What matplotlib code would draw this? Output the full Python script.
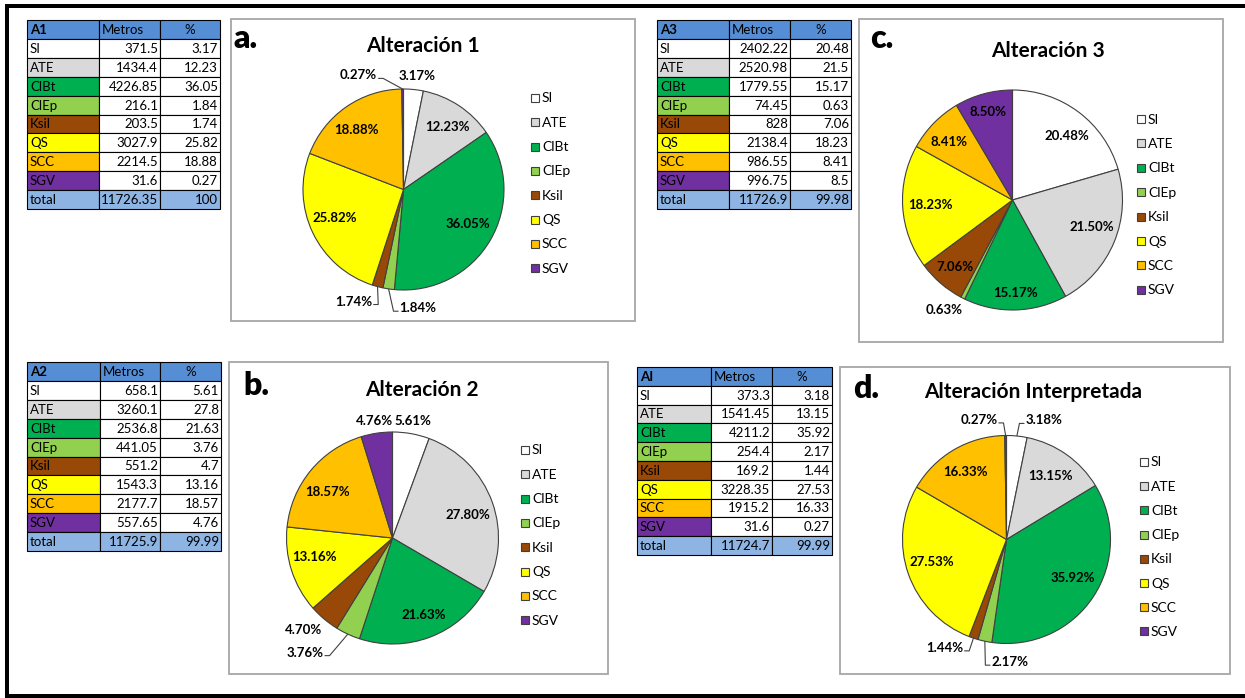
import matplotlib
matplotlib.use("Agg")
import matplotlib.pyplot as plt
from matplotlib.patches import Rectangle
import numpy as np

W, H = 1245, 698
plt.rcParams['font.family'] = ['Lato', 'DejaVu Sans']

# ---------------------------------------------------------------- data
categories = ["SI", "ATE", "ClBt", "ClEp", "Ksil", "QS", "SCC", "SGV"]
colors = ["#FFFFFF", "#D9D9D9", "#00B050", "#92D050",
          "#984807", "#FFFF00", "#FFC000", "#7030A0"]

metros_a1 = [371.5, 1434.4, 4226.85, 216.1, 203.5, 3027.9, 2214.5, 31.6]
pct_a1 = [3.17, 12.23, 36.05, 1.84, 1.74, 25.82, 18.88, 0.27]
total_a1 = [11726.35, 100]

metros_a2 = [658.1, 3260.1, 2536.8, 441.05, 551.2, 1543.3, 2177.7, 557.65]
pct_a2 = [5.61, 27.8, 21.63, 3.76, 4.7, 13.16, 18.57, 4.76]
total_a2 = [11725.9, 99.99]

metros_a3 = [2402.22, 2520.98, 1779.55, 74.45, 828, 2138.4, 986.55, 996.75]
pct_a3 = [20.48, 21.5, 15.17, 0.63, 7.06, 18.23, 8.41, 8.5]
total_a3 = [11726.9, 99.98]

metros_ai = [373.3, 1541.45, 4211.2, 254.4, 169.2, 3228.35, 1915.2, 31.6]
pct_ai = [3.18, 13.15, 35.92, 2.17, 1.44, 27.53, 16.33, 0.27]
total_ai = [11724.7, 99.99]

table_names = ["A1", "A2", "A3", "AI"]
chart_titles = ["Alteración 1", "Alteración 2", "Alteración 3", "Alteración Interpretada"]
panel_letters = ["a.", "b.", "c.", "d."]

# ---------------------------------------------------------------- figure
fig = plt.figure(figsize=(W / 100, H / 100), dpi=100)
ax = fig.add_axes([0, 0, 1, 1])
fig.patch.set_facecolor("white")
ax.set_xlim(0, W)
ax.set_ylim(0, H)
ax.set_autoscale_on(False)
ax.axis("off")


def Y(y):
    """Pixel row (top-down) to axes y (bottom-up)."""
    return H - y


def fmt(v):
    return ("%f" % v).rstrip("0").rstrip(".")


HEADER = "#558ED5"
TOTAL = "#8DB4E2"
TABLE_FS = 9.5


def draw_table(x_edges, y_top, row_h, name, metros, pct, total):
    rows = [(name, "Metros", "%")]
    rows += [(c, fmt(m), fmt(p)) for c, m, p in zip(categories, metros, pct)]
    rows += [("total", fmt(total[0]), fmt(total[1]))]
    for r, row in enumerate(rows):
        y0 = y_top + r * row_h
        for c in range(3):
            x0, x1 = x_edges[c], x_edges[c + 1]
            if r == 0:
                fc = HEADER
            elif r == len(rows) - 1:
                fc = TOTAL
            elif c == 0:
                fc = colors[r - 1]
            else:
                fc = "white"
            ax.add_patch(Rectangle((x0, Y(y0 + row_h)), x1 - x0, row_h,
                                   facecolor=fc, edgecolor="black", lw=0.8, zorder=2))
            yc = Y(y0 + row_h / 2) - 0.5
            txt = row[c]
            if r == 0 and c == 0:
                ax.text(x0 + 3, yc, txt, ha="left", va="center", fontsize=TABLE_FS,
                        fontweight="bold", zorder=3)
            elif r == 0 and c == 2:
                ax.text((x0 + x1) / 2, yc, txt, ha="center", va="center",
                        fontsize=TABLE_FS, zorder=3)
            elif c == 0 or r == 0:
                ax.text(x0 + 3, yc, txt, ha="left", va="center",
                        fontsize=TABLE_FS, zorder=3)
            else:
                ax.text(x1 - 2, yc, txt, ha="right", va="center",
                        fontsize=TABLE_FS, zorder=3)


def draw_chart(idx, box, center, R, title_xy, letter_xy, legend_xy, leg_dy,
               pct, label_spec):
    bx0, by0, bx1, by1 = box
    ax.add_patch(Rectangle((bx0, Y(by1)), bx1 - bx0, by1 - by0,
                           facecolor="white", edgecolor="#A6A6A6", lw=1.3, zorder=0.5))
    cx, cy = center
    wedges, _ = ax.pie(pct, colors=colors, startangle=90, counterclock=False,
                       radius=R, center=(cx, Y(cy)), frame=True,
                       wedgeprops=dict(edgecolor="#404040", linewidth=0.8))
    for w in wedges:
        w.set_zorder(1)
    renderer = fig.canvas.get_renderer()
    for w, p, (rf, dth, leader) in zip(wedges, pct, label_spec):
        mid = np.deg2rad((w.theta1 + w.theta2) / 2)
        ang = mid + np.deg2rad(dth)
        lx = cx + rf * R * np.cos(ang)
        ly = Y(cy) + rf * R * np.sin(ang)
        t = ax.text(lx, ly, f"{p:.2f}%", ha="center", va="center",
                    fontsize=9.5, fontweight="bold", zorder=4)
        if leader:
            ex = cx + R * np.cos(mid)
            ey = Y(cy) + R * np.sin(mid)
            bb = t.get_window_extent(renderer)
            ay = ly - 3
            if lx > ex:
                axp = bb.x0 - 1
                sx = axp - 5
            else:
                axp = bb.x1 + 1
                sx = axp + 5
            ax.plot([axp, sx, ex], [ay, ay, ey], color="#404040", lw=0.8,
                    solid_capstyle="butt", zorder=3)
    ax.text(title_xy[0], Y(title_xy[1]), chart_titles[idx], ha="center",
            va="baseline", fontsize=15, fontweight="bold", zorder=4)
    ax.text(letter_xy[0], Y(letter_xy[1]), panel_letters[idx], ha="left",
            va="baseline", fontsize=23, fontweight="heavy", zorder=4)
    lx0, ly0 = legend_xy
    for k, (name, col) in enumerate(zip(categories, colors)):
        yy = ly0 + k * leg_dy
        ax.add_patch(Rectangle((lx0, Y(yy) - 4), 8, 8, facecolor=col,
                               edgecolor="#404040", lw=0.8, zorder=4))
        ax.text(lx0 + 11, Y(yy) - 0.5, name, ha="left", va="center",
                fontsize=10, zorder=4)


# tables
draw_table([27, 99, 160, 220], 20, 18.9, table_names[0], metros_a1, pct_a1, total_a1)
draw_table([27, 100, 160, 221], 362, 18.9, table_names[1], metros_a2, pct_a2, total_a2)
draw_table([657, 729, 790, 851], 20, 18.9, table_names[2], metros_a3, pct_a3, total_a3)
draw_table([637, 711, 772, 832], 367, 18.8, table_names[3], metros_ai, pct_ai, total_ai)

# label placement per slice: (radius factor, angle shift in degrees, leader line)
spec_a = [(1.14, -1, False), (0.76, -1.5, False), (0.73, 2, False),
          (1.19, 15.5, True), (1.22, -9, True), (0.74, -2.5, False),
          (0.755, 3, False), (1.22, 21, True)]
spec_b = [(1.12, 0, False), (0.74, -2.8, False), (0.78, 1.2, False),
          (1.36, -12.4, True), (1.21, -4, False), (0.76, -3.7, False),
          (0.75, 4.4, False), (1.12, 0, False)]
spec_c = [(0.76, -3.5, False), (0.76, 3.6, False), (0.85, 0.4, False),
          (1.18, -5, False), (0.8, 0, False), (0.75, 0, False),
          (0.78, 1.8, False), (0.83, 0, False)]
spec_d = [(1.2, -11.7, True), (0.74, 0.7, False), (0.74, 3.3, False),
          (1.18, 13.6, True), (1.2, -11.2, True), (0.75, -2.5, False),
          (0.76, 1.2, False), (1.18, 12.5, True)]

draw_chart(0, (231, 19, 635, 321), (403.5, 189.5), 100.5, (423, 52), (233, 48),
           (531, 98), 24.3, pct_a1, spec_a)
draw_chart(1, (229, 362, 608, 674), (392.5, 538), 106, (422, 396), (243, 395),
           (521, 450), 24.3, pct_a2, spec_b)
draw_chart(2, (859, 19, 1223, 342), (1012.5, 200), 110, (1048, 57), (870, 48),
           (1137, 119), 24.4, pct_a3, spec_c)
draw_chart(3, (840, 367, 1230, 674), (1006.5, 539.5), 104, (1033, 398), (853, 398),
           (1140, 462), 24.2, pct_ai, spec_d)

# outer frame
lw_frame = 4 * 72 / 100
ax.plot([7, 7], [Y(4), Y(698)], color="black", lw=lw_frame, solid_capstyle="butt", zorder=5)
ax.plot([5, W], [Y(6), Y(6)], color="black", lw=lw_frame, solid_capstyle="butt", zorder=5)
ax.plot([5, W], [Y(696), Y(696)], color="black", lw=lw_frame, solid_capstyle="butt", zorder=5)

ax.set_xlim(0, W)
ax.set_ylim(0, H)
ax.set_aspect("auto")

fig.savefig("out.png", dpi=100, facecolor="white")
